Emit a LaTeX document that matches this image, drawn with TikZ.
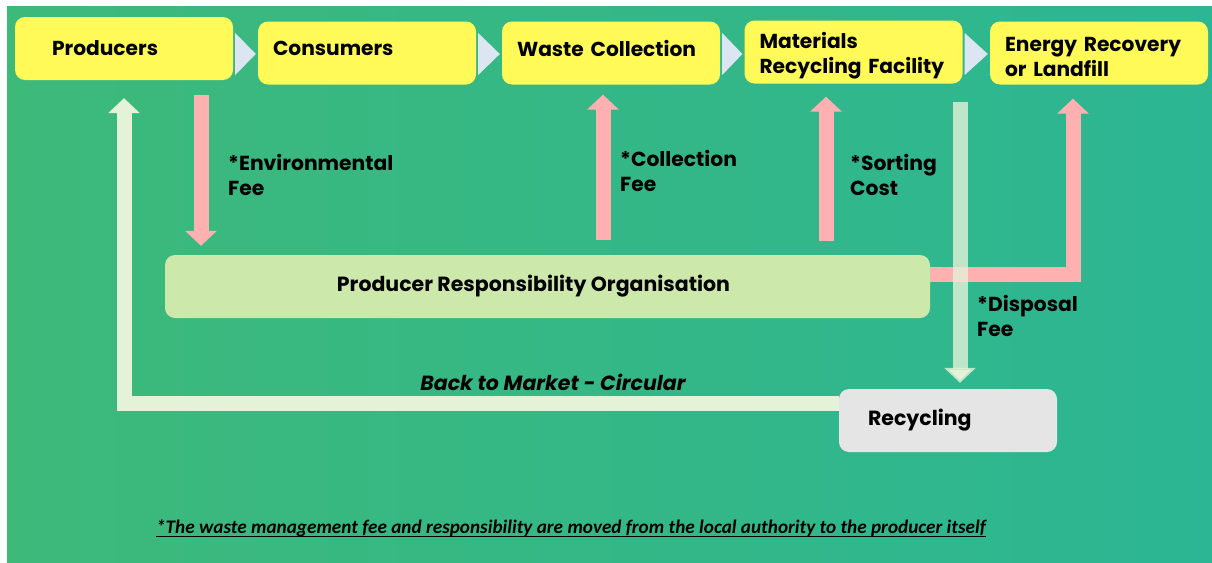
\documentclass[tikz,border=0pt]{standalone}
\usepackage{fontspec}
\setmainfont{Poppins}
\newfontfamily\notefont{Carlito}
\usetikzlibrary{arrows.meta,positioning,calc}
\definecolor{bgL}{RGB}{61,185,122}
\definecolor{bgR}{RGB}{44,182,147}
\definecolor{stageY}{RGB}{255,250,88}
\definecolor{chevB}{RGB}{220,230,242}
\definecolor{feeP}{RGB}{255,176,176}
\definecolor{proG}{RGB}{204,232,170}
\definecolor{recG}{RGB}{229,229,229}
\definecolor{loopG}{RGB}{228,242,216}
\tikzset{
  stage/.style={fill=stageY,rounded corners=10pt,minimum width=218pt,minimum height=63pt,
    text width=188pt,inner xsep=15pt,inner ysep=0pt,align=left,
    font=\bfseries\fontsize{20.2}{25}\selectfont},
  lift/.style={text depth=10pt},
  drop/.style={text height=23pt},
  chev/.style={fill=chevB},
  org/.style={fill=proG,rounded corners=10pt,minimum width=765pt,minimum height=63pt,
    font=\bfseries\fontsize{20.5}{25}\selectfont},
  recbox/.style={fill=recG,rounded corners=10pt,minimum width=218pt,minimum height=63pt,
    text width=160pt,inner xsep=29pt,align=left,font=\bfseries\fontsize{20.5}{25}\selectfont},
  lbl/.style={anchor=west,align=left,inner sep=0pt,font=\bfseries\fontsize{20.3}{25}\selectfont},
  fee/.style={draw=feeP,line width=15pt,-{Triangle[length=15pt,width=31pt]}},
  loop/.style={draw=loopG,line width=15pt,-{Triangle[length=15pt,width=31pt]}},
}

\begin{document}
\begin{tikzpicture}[x=1pt,y=-1pt]
\useasboundingbox (0,0) rectangle (1212,562);
\fill[white] (0,0) rectangle (1212,562);
\shade[left color=bgL,right color=bgR] (7,6) rectangle (1212,562);

% the chain of stages along the top
\node[stage] (prod) at (124,48.5) {\hspace*{22pt}Producers};
\node[stage,lift] (cons) at (367,53) {Consumers};
\node[stage,lift] (waste) at (611,53) {Waste Collection};
\node[stage,drop] (mrf) at (853.5,52) {Materials\\Recycling Facility};
\node[stage,drop] (energy) at (1099,53) {Energy Recovery\\or Landfill};
\foreach \a/\b in {prod/cons,cons/waste,waste/mrf,mrf/energy}
  \fill[chev] ($(\a.east |- 0,33)+(2,0)$) -- ($(\b.west |- 0,54)+(-2,0)$)
    -- ($(\a.east |- 0,75)+(2,0)$) -- cycle;

\node[org] (pro) at (547.5,286.5) {Producer Responsibility Organisation\hspace*{28pt}};
\node[recbox] (recyc) at (948,420.5) {Recycling};

% fees paid through the PRO
\draw[fee,shorten <=15pt,shorten >=9pt] (prod.south -| 201,0) -- (pro.north -| 201,0);
\draw[fee,shorten <=15pt,shorten >=10pt] (pro.north -| 603,0) -- (waste.south -| 603,0);
\draw[fee,shorten <=14pt,shorten >=13pt] (pro.north -| 826,0) -- (mrf.south -| 826,0);
\draw[fee,shorten >=14pt] (pro.east |- 0,274) -| ([xshift=-26pt]energy.south);

% material flows
\draw[loop,draw opacity=.8,shorten <=18pt,shorten >=6pt] (mrf.south -| 960,0) -- (recyc.north -| 960,0);
\draw[loop,shorten >=18pt] (recyc.west |- 0,403) -| (prod.south);

\node[lbl] (envlbl) at (228,174.5) {*Environmental\\Fee};
\node[lbl] (collbl) at (620,170.5) {*Collection\\Fee};
\node[lbl] (sortlbl) at (850,174.5) {*Sorting\\Cost};
\node[lbl] (displbl) at (977,315.5) {*Disposal\\Fee};
\node[font=\bfseries\itshape\fontsize{20.5}{25}\selectfont] (back) at (553,382) {Back to Market - Circular};
\node[inner sep=0pt,font=\notefont\bfseries\itshape\fontsize{19.2}{22}\selectfont] (note) at (571,528)
  {*The waste management fee and responsibility are moved from the local authority to the producer itself};
\draw[line width=1.6pt] (note.south west) -- (note.south east);
\end{tikzpicture}
\end{document}
